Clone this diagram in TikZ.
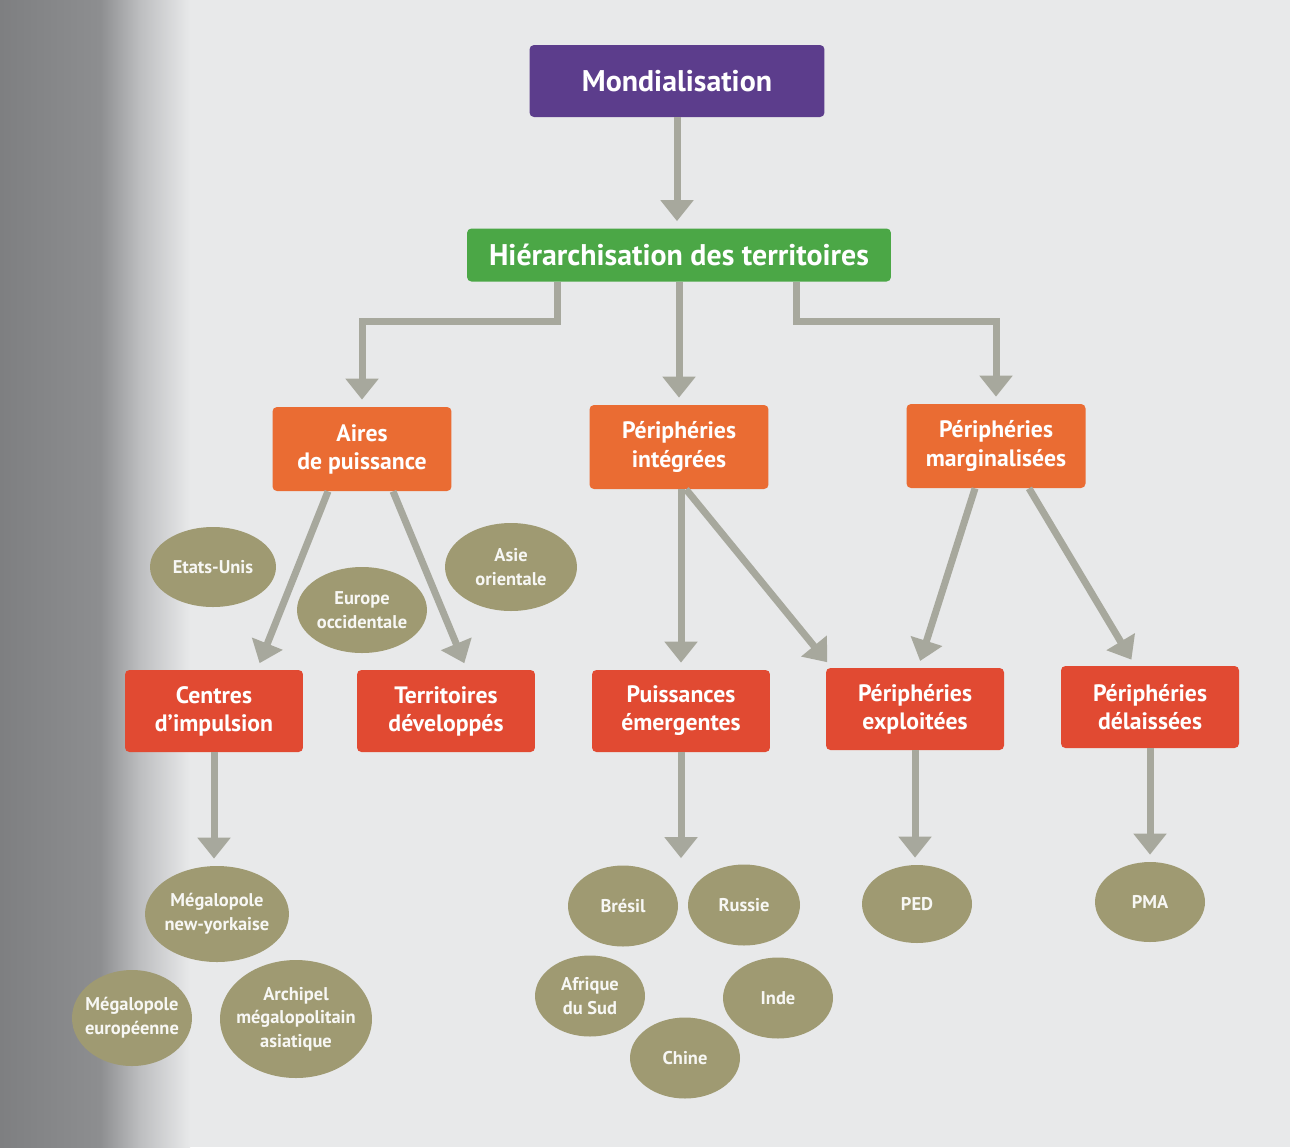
\documentclass[tikz,border=0pt]{standalone}
\usepackage{fontspec}
\setmainfont{PT Sans}
\usetikzlibrary{arrows.meta,shapes.geometric,positioning}
\definecolor{pagegray}{HTML}{E8E9EA}
\definecolor{shadowgray}{HTML}{7E7F81}
\definecolor{midgray}{HTML}{8D8E90}
\definecolor{lightgray2}{HTML}{BDBEC0}
\definecolor{mondviolet}{HTML}{5C3D8C}
\definecolor{hiergreen}{HTML}{4BA746}
\definecolor{aireorange}{HTML}{EA6C33}
\definecolor{typered}{HTML}{E14A32}
\definecolor{exolive}{HTML}{9F9A72}
\definecolor{arrowgray}{HTML}{A7A89D}
\tikzset{
  basic/.style   = {rectangle, rounded corners=2.5pt, align=center, text=white, inner sep=2pt},
  root/.style    = {basic, fill=mondviolet, minimum width=5.9cm, minimum height=1.44cm,
                    font=\fontsize{17}{20}\selectfont\bfseries},
  level 1/.style = {basic, fill=hiergreen, minimum width=8.48cm, minimum height=1.06cm,
                    font=\fontsize{17}{20}\selectfont\bfseries},
  level 2/.style = {basic, fill=aireorange, minimum width=3.58cm, minimum height=1.68cm,
                    font=\fontsize{13.5}{16}\selectfont\bfseries},
  level 3/.style = {basic, fill=typered, minimum width=3.56cm, minimum height=1.64cm,
                    font=\fontsize{13.5}{16}\selectfont\bfseries},
  example/.style = {ellipse, fill=exolive, text=white!92!exolive, align=center, inner sep=-4pt,
                    minimum width=2.2cm, minimum height=1.62cm,
                    font=\fontsize{10.5}{13.5}\selectfont\bfseries},
  arr/.style     = {draw=arrowgray, line width=0.14cm,
                    -{Triangle[width=0.64cm,length=0.42cm]}, shorten >=0.14cm}
}

\begin{document}
\begin{tikzpicture}[x=0.02cm,y=-0.02cm]

% page background with the shadow of the binding on the left
\fill[pagegray] (0,0) rectangle (1290,1147);
\shade[left color=shadowgray, right color=midgray] (0,0) rectangle (100,1147);
\shade[left color=midgray, right color=lightgray2] (100,0) rectangle (140,1147);
\shade[left color=lightgray2, right color=pagegray] (140,0) rectangle (190,1147);

\node[root]    (root) at (677,81)  {Mondialisation};
\node[level 1] (hier) at (679,255) {Hiérarchisation des territoires};

\node[level 2] (c1) at (362,449) {Aires\\de puissance};
\node[level 2] (c2) at (679,447) {Périphéries\\intégrées};
\node[level 2] (c3) at (996,446) {Périphéries\\marginalisées};

\node[level 3] (c11) at (214,711)  {Centres\\d'impulsion};
\node[level 3] (c12) at (446,711)  {Territoires\\développés};
\node[level 3] (c21) at (681,711)  {Puissances\\émergentes};
\node[level 3] (c31) at (915,709)  {Périphéries\\exploitées};
\node[level 3] (c32) at (1150,707) {Périphéries\\délaissées};

% examples
\node[example, minimum width=2.52cm, minimum height=1.6cm]  (c1a) at (213,567) {Etats-Unis};
\node[example, minimum width=2.6cm,  minimum height=1.72cm] (c1b) at (362,610) {Europe\\occidentale};
\node[example, minimum width=2.64cm, minimum height=1.76cm] (c1c) at (511,567) {Asie\\orientale};

\node[example, minimum width=2.88cm, minimum height=1.92cm] (c111) at (217,914)  {Mégalopole\\new-yorkaise};
\node[example, minimum width=2.4cm,  minimum height=1.92cm] (c112) at (132,1018) {Mégalopole\\européenne};
\node[example, minimum width=3.04cm, minimum height=2.36cm] (c113) at (296,1019) {Archipel\\mégalopolitain\\asiatique};

\node[example] (c211) at (623,906)  {Brésil};
\node[example, minimum width=2.24cm] (c212) at (744,905) {Russie};
\node[example] (c213) at (590,996)  {Afrique\\du Sud};
\node[example] (c214) at (778,998)  {Inde};
\node[example] (c215) at (685,1058) {Chine};

\node[example, minimum height=1.56cm] (c311) at (917,904)  {PED};
\node[example, minimum height=1.6cm]  (c321) at (1150,902) {PMA};

\draw[arr] (root.south) -- (root.south |- hier.north);

\draw[arr] ([xshift=-2.44cm]hier.south) -- ++(0,-0.8cm) -| (c1.north);
\draw[arr] (hier.south) -- (hier.south |- c2.north);
\draw[arr] ([xshift=2.36cm]hier.south) -- ++(0,-0.8cm) -| (c3.north);

\draw[arr] ([xshift=-0.68cm]c1.south) -- ([xshift=0.86cm]c11.north);
\draw[arr] ([xshift=0.62cm]c1.south)  -- ([xshift=0.42cm]c12.north);
\draw[arr] ([xshift=0.04cm]c2.south)  -- ([xshift=0.04cm]c2.south |- c21.north);
\draw[arr] ([xshift=0.14cm]c2.south)  -- ([xshift=0.12cm]c31.north west);
\draw[arr] ([xshift=-0.42cm]c3.south) -- ([xshift=0.06cm]c31.north);
\draw[arr] ([xshift=0.66cm]c3.south)  -- ([xshift=-0.3cm]c32.north);

\foreach \a/\b in {c11/c111, c21/c211, c31/c311, c32/c321}
  \draw[arr] (\a.south) -- (\a.south |- \b.north);

\end{tikzpicture}
\end{document}
